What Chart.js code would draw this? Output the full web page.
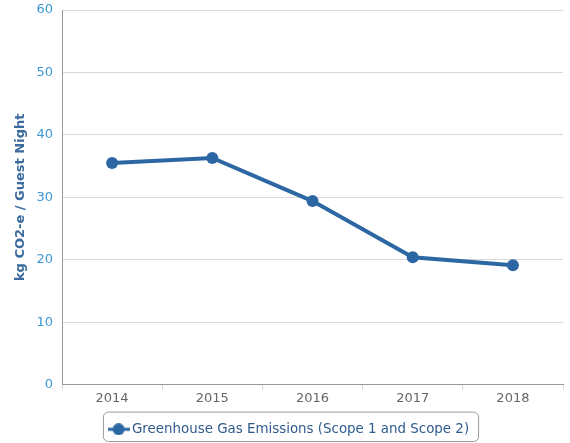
<!DOCTYPE html>
<html>
<head>
<meta charset="utf-8">
<script src="https://cdn.jsdelivr.net/npm/chart.js@4.4.1/dist/chart.umd.min.js"></script>
<style>
  html, body { margin: 0; padding: 0; background: #fff; }
  #wrap { width: 570px; height: 443px; position: relative; }
</style>
</head>
<body>
<div id="wrap"><canvas id="chart"></canvas></div>
<script>
const years = ['2014', '2015', '2016', '2017', '2018'];
const emissions = [35.5, 36.3, 29.4, 20.4, 19.1];
const yTicks = [0, 10, 20, 30, 40, 50, 60];

const lineColor = '#2d67a3';

// legend symbol: short line with a dot on it
const sym = document.createElement('canvas');
sym.width = 22; sym.height = 12;
const sctx = sym.getContext('2d');
sctx.strokeStyle = lineColor;
sctx.lineWidth = 3;
sctx.beginPath(); sctx.moveTo(0, 6); sctx.lineTo(22, 6); sctx.stroke();
sctx.fillStyle = lineColor;
sctx.beginPath(); sctx.arc(11, 6, 6, 0, Math.PI * 2); sctx.fill();

const legendBox = {
    id: 'legendBox',
    afterDraw(chart) {
        const lg = chart.legend;
        const ctx = chart.ctx;
        const item = lg.legendHitBoxes[0];
        if (!item) return;
        const x = item.left - 9, y = item.top - 11;
        const w = item.width + 18, h = item.height + 16;
        ctx.save();
        ctx.strokeStyle = '#999';
        ctx.lineWidth = 1;
        ctx.beginPath();
        ctx.roundRect(x + 0.5, y + 0.5, w, h, 5);
        ctx.stroke();
        ctx.restore();
    }
};

const ctx = document.querySelector('#chart').getContext('2d');
new Chart(ctx, {
    type: 'line',
    data: {
        labels: years,
        datasets: [{
            label: 'Greenhouse Gas Emissions (Scope 1 and Scope 2)',
            data: emissions,
            borderColor: lineColor,
            backgroundColor: lineColor,
            borderWidth: 4,
            pointRadius: 6,
            pointHoverRadius: 7,
            pointBorderWidth: 0,
            tension: 0
        }]
    },
    options: {
        responsive: true,
        maintainAspectRatio: false,
        animation: false,
        layout: { padding: { top: 10, right: 2, left: 13, bottom: -3 } },
        scales: {
            x: {
                offset: true,
                afterFit: scale => { scale.height = 37; },
                grid: {
                    offset: true,
                    drawOnChartArea: false,
                    drawTicks: true,
                    tickLength: 5,
                    color: '#ccd6eb'
                },
                border: { color: '#999', width: 1 },
                ticks: {
                    color: '#666',
                    font: { family: 'DejaVu Sans', size: 13 },
                    padding: 1
                }
            },
            y: {
                min: 0,
                max: 60,
                afterBuildTicks: scale => { scale.ticks = yTicks.map(v => ({ value: v })); },
                afterFit: scale => { scale.width = 49; scale.paddingTop = 0; },
                grid: { color: '#d8d8d8', drawTicks: false },
                border: { color: '#999', width: 1 },
                ticks: {
                    color: '#3d98d6',
                    font: { family: 'DejaVu Sans', size: 13 },
                    padding: 9
                },
                title: {
                    display: true,
                    text: 'kg CO2-e / Guest Night',
                    color: '#3a6a9e',
                    font: { family: 'DejaVu Sans', size: 13, weight: 'bold' },
                    padding: { top: 0, bottom: 8 }
                }
            }
        },
        plugins: {
            legend: {
                position: 'bottom',
                labels: {
                    usePointStyle: true,
                    pointStyle: sym,
                    color: '#2f5b8c',
                    font: { family: 'DejaVu Sans', size: 13.4 },
                    padding: 1
                }
            },
            tooltip: { enabled: false }
        }
    },
    plugins: [legendBox]
});
</script>
</body>
</html>
